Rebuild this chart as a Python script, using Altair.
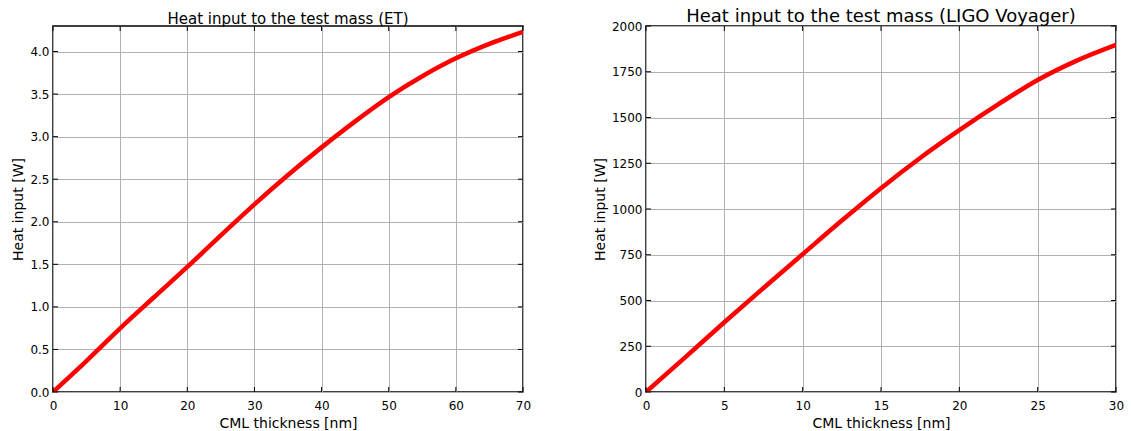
import altair as alt
import pandas as pd

# ET panel
et_thickness = [0, 5, 10, 15, 20, 25, 30, 35, 40, 45, 50, 55, 60, 65, 70]
et_heat = [0.0, 0.366, 0.748, 1.11, 1.469, 1.84, 2.205, 2.55, 2.874, 3.18, 3.465, 3.71, 3.92, 4.09, 4.23]
et_xticks = [0, 10, 20, 30, 40, 50, 60, 70]
et_yticks = [0.0, 0.5, 1.0, 1.5, 2.0, 2.5, 3.0, 3.5, 4.0]

# LIGO Voyager panel
lv_thickness = [0, 2.5, 5, 7.5, 10, 12.5, 15, 17.5, 20, 22.5, 25, 27.5, 30]
lv_heat = [0, 189, 381, 568, 753, 937, 1114, 1279, 1431, 1573, 1705, 1811, 1897]
lv_xticks = [0, 5, 10, 15, 20, 25, 30]
lv_yticks = [0, 250, 500, 750, 1000, 1250, 1500, 1750, 2000]

W, H = 470, 366
TL = 5
FONT = "DejaVu Sans"


def panel(xs, ys, xticks, yticks, xdom, ydom, title, title_size, title_offset, yfmt):
    df = pd.DataFrame({"x": xs, "y": ys})
    xsc = alt.Scale(domain=xdom, nice=False, zero=False)
    ysc = alt.Scale(domain=ydom, nice=False, zero=False)
    line = alt.Chart(df).mark_line(color="#ff0000", strokeWidth=4.5, clip=True,
                                   interpolate="monotone").encode(
        x=alt.X("x:Q", scale=xsc, title="CML thickness [nm]",
                axis=alt.Axis(values=xticks, format="d", grid=True,
                              labelPadding=8, titlePadding=5)),
        y=alt.Y("y:Q", scale=ysc, title="Heat input [W]",
                axis=alt.Axis(values=yticks, format=yfmt, grid=True)),
    )
    xt = pd.DataFrame({"t": xticks})
    yt = pd.DataFrame({"t": yticks})
    bt = alt.Chart(xt).mark_rule(color="black", strokeWidth=1).encode(
        x=alt.X("t:Q", scale=xsc), y=alt.value(H), y2=alt.value(H - TL))
    tt = alt.Chart(xt).mark_rule(color="black", strokeWidth=1).encode(
        x=alt.X("t:Q", scale=xsc), y=alt.value(0), y2=alt.value(TL))
    lt = alt.Chart(yt).mark_rule(color="black", strokeWidth=1).encode(
        y=alt.Y("t:Q", scale=ysc), x=alt.value(0), x2=alt.value(TL))
    rt = alt.Chart(yt).mark_rule(color="black", strokeWidth=1).encode(
        y=alt.Y("t:Q", scale=ysc), x=alt.value(W), x2=alt.value(W - TL))
    return alt.layer(line, bt, tt, lt, rt).properties(
        width=W, height=H,
        title=alt.TitleParams(title, fontSize=title_size, font=FONT,
                              fontWeight="normal", color="black",
                              offset=title_offset),
    )


left = panel(et_thickness, et_heat, et_xticks, et_yticks, [0, 70], [0, 4.3],
             "Heat input to the test mass (ET)", 15, -1, ".1f")
right = panel(lv_thickness, lv_heat, lv_xticks, lv_yticks, [0, 30], [0, 2000],
              "Heat input to the test mass (LIGO Voyager)", 18, -5.5, "d")

chart = alt.hconcat(left, right, spacing=60).properties(
    background="white",
    padding={"left": 11, "top": 6, "right": 0, "bottom": 0},
).configure_view(
    stroke="black", strokeWidth=1.5
).configure_axis(
    domain=False, ticks=False, labelFlush=False, labelOverlap=False,
    gridColor="#b0b0b0", gridWidth=1, gridOpacity=1,
    labelFont=FONT, labelFontSize=12, labelColor="black", labelPadding=4,
    titleFont=FONT, titleFontSize=14, titleFontWeight="normal", titleColor="black",
    titlePadding=4,
)

chart.save("out.html", embed_options={"renderer": "svg", "actions": False})
